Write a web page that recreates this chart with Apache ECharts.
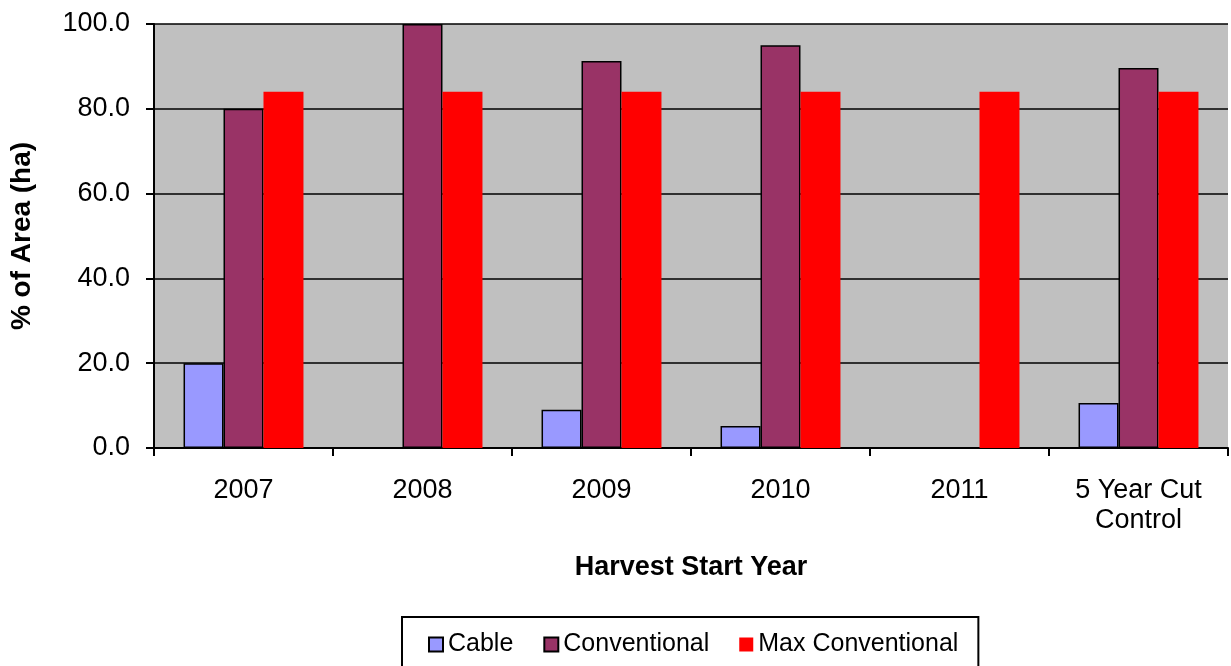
<!DOCTYPE html>
<html>
<head>
<meta charset="utf-8">
<script src="https://cdn.jsdelivr.net/npm/echarts@6/dist/echarts.min.js"></script>
<style>html,body{margin:0;padding:0;background:#fff;}#chart{width:1231px;height:666px;}</style>
</head>
<body>
<div id="chart"></div>
<script>
const categories = ['2007', '2008', '2009', '2010', '2011', '5 Year Cut\nControl'];
const cable = [20.0, 0, 9.0, 5.2, 0, 10.6];
const conventional = [80.0, 100.0, 91.3, 95.0, 0, 89.6];
const maxConventional = [84.0, 84.0, 84.0, 84.0, 84.0, 84.0];

const chart = echarts.init(document.getElementById('chart'));
const font = 'Liberation Sans, Arial, sans-serif';
chart.setOption({
  animation: false,
  textStyle: { fontFamily: font },
  grid: {
    left: 154, right: 3, top: 24, bottom: 218,
    show: true, backgroundColor: '#C0C0C0', borderWidth: 0
  },
  legend: {
    left: 402, top: 617,
    padding: [15, 20, 30, 26],
    borderColor: '#000', borderWidth: 2,
    itemWidth: 14, itemHeight: 14, itemGap: 30,
    icon: 'rect',
    textStyle: { fontSize: 25, color: '#000', fontFamily: font },
    data: ['Cable', 'Conventional', 'Max Conventional']
  },
  xAxis: {
    type: 'category',
    data: categories,
    name: 'Harvest Start Year',
    nameLocation: 'middle',
    nameGap: 106,
    nameTextStyle: { fontSize: 27, fontWeight: 'bold', color: '#000' },
    axisLine: { lineStyle: { color: '#000', width: 2 } },
    axisTick: { show: true, length: 8, lineStyle: { color: '#000', width: 2 } },
    axisLabel: { fontSize: 27, color: '#000', margin: 28, lineHeight: 30, interval: 0 }
  },
  yAxis: {
    type: 'value',
    min: 0, max: 100, interval: 20,
    name: '% of Area (ha)',
    nameLocation: 'middle',
    nameGap: 118,
    nameTextStyle: { fontSize: 28, fontWeight: 'bold', color: '#000' },
    axisLine: { show: true, lineStyle: { color: '#000', width: 2 } },
    axisTick: { show: true, length: 8, lineStyle: { color: '#000', width: 2 } },
    axisLabel: { fontSize: 27, color: '#000', margin: 24, formatter: v => v.toFixed(1) },
    splitLine: { show: true, lineStyle: { color: '#000', width: 1.5 } }
  },
  series: [
    {
      name: 'Cable', type: 'bar', data: cable,
      barGap: '0%', barCategoryGap: '33%',
      itemStyle: { color: '#9999FF', borderColor: '#000', borderWidth: 1.5 }
    },
    {
      name: 'Conventional', type: 'bar', data: conventional,
      barGap: '0%', barCategoryGap: '33%',
      itemStyle: { color: '#993366', borderColor: '#000', borderWidth: 1.5 }
    },
    {
      name: 'Max Conventional', type: 'bar', data: maxConventional,
      barGap: '0%', barCategoryGap: '33%',
      itemStyle: { color: '#FF0000' }
    }
  ]
});
</script>
</body>
</html>
